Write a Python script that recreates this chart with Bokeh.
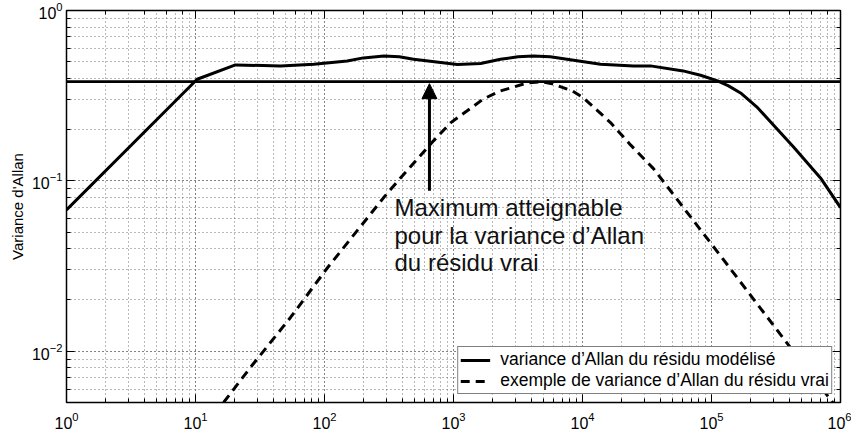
from bokeh.plotting import figure
from bokeh.models import LogAxis, LogTicker, Legend, LegendItem, Arrow, NormalHead, Range1d
from bokeh.embed import file_html
from bokeh.resources import INLINE
from bokeh.core.properties import value

FONT = "Liberation Sans"

# modelled residual Allan variance (solid)
tau_model = [1, 10.3, 20.4, 45.6, 82.6, 150, 200, 289, 380, 490, 1072, 1622,
             2312, 3162, 4169, 5623, 7586, 13800, 24830, 33650, 60300, 82200,
             111400, 135500, 168000, 224000, 302000, 432500, 700000, 1e6]
avar_model = [0.0676, 0.395, 0.479, 0.473, 0.483, 0.506, 0.527, 0.541, 0.535,
              0.517, 0.482, 0.488, 0.517, 0.535, 0.541, 0.535, 0.517, 0.483,
              0.473, 0.473, 0.442, 0.417, 0.386, 0.361, 0.328, 0.272, 0.213,
              0.158, 0.104, 0.0697]

# example of true residual Allan variance (dashed)
tau_true = [16.5, 26.7, 54.5, 105.5, 286.6, 388, 700, 948, 1710, 2312, 3750,
            4720, 5850, 8360, 10180, 16480, 23560, 35480, 117500, 409300,
            871000, 1e6]
avar_true = [0.005, 0.00804, 0.01578, 0.0309, 0.0795, 0.104, 0.1717, 0.219,
             0.303, 0.337, 0.376, 0.382, 0.371, 0.337, 0.307, 0.22, 0.1626,
             0.118, 0.0363, 0.0105, 0.005, 0.0044]

# attainable maximum
tau_limit = [1, 1e6]
avar_limit = [0.382, 0.382]

# annotation
arrow_tau = 651
arrow_avar = [0.0874, 0.372]
note_tau = [349, 349, 349]
note_avar = [0.0695, 0.0476, 0.0332]
note_lines = ["Maximum atteignable", "pour la variance d\u2019Allan", "du r\u00e9sidu vrai"]

legend_labels = ["variance d\u2019Allan du r\u00e9sidu mod\u00e9lis\u00e9",
                 "exemple de variance d\u2019Allan du r\u00e9sidu vrai"]
y_label = "Variance d'Allan"

p = figure(width=851, height=439, x_axis_type="log", y_axis_type="log",
           x_range=Range1d(1, 1e6), y_range=Range1d(0.005, 1),
           output_backend="svg", toolbar_location=None,
           min_border_left=66, min_border_right=11, min_border_top=10,
           min_border_bottom=37)
p.background_fill_color = "white"
p.border_fill_color = "white"
p.outline_line_color = "black"
p.outline_line_width = 1.5

for g in (p.xgrid, p.ygrid):
    g.grid_line_color = "#707070"
    g.grid_line_dash = "1 3"
    g.grid_line_width = 1
    g.minor_grid_line_color = "#707070"
    g.minor_grid_line_dash = "1 3"
    g.minor_grid_line_width = 1

for ax in list(p.xaxis) + list(p.yaxis):
    ax.major_tick_in = 8
    ax.major_tick_out = 0
    ax.minor_tick_in = 4
    ax.minor_tick_out = 0
    ax.axis_line_color = "black"
    ax.major_tick_line_color = "black"
    ax.minor_tick_line_color = "black"
    ax.major_label_text_font = FONT
    ax.major_label_text_font_size = "16px"
    ax.major_label_text_color = "black"

p.xaxis.major_label_standoff = 9
p.yaxis.major_label_standoff = 4
p.yaxis.axis_label = y_label
p.yaxis.axis_label_text_font = FONT
p.yaxis.axis_label_text_font_size = "15px"
p.yaxis.axis_label_text_font_style = "normal"
p.yaxis.axis_label_text_color = "black"
p.yaxis.axis_label_standoff = 3

for place in ("above", "right"):
    ax = LogAxis(ticker=LogTicker())
    ax.major_label_text_font_size = "1px"
    ax.major_label_text_color = None
    ax.major_label_standoff = 0
    ax.major_tick_in = 8
    ax.major_tick_out = 0
    ax.minor_tick_in = 4
    ax.minor_tick_out = 0
    ax.axis_line_color = "black"
    p.add_layout(ax, place)

p.line(tau_limit, avar_limit, line_color="black", line_width=2.7)
r_model = p.line(tau_model, avar_model, line_color="black", line_width=3)
r_true = p.line(tau_true, avar_true, line_color="black", line_width=3,
                line_dash="9 6")

p.add_layout(Arrow(end=NormalHead(size=15, fill_color="black", line_color="black"),
                   x_start=arrow_tau, y_start=arrow_avar[0],
                   x_end=arrow_tau, y_end=arrow_avar[1],
                   line_color="black", line_width=3))

p.text(x=note_tau, y=note_avar, text=note_lines, text_font=value(FONT),
       text_font_size="24px", text_color="#111111", text_align="left",
       text_baseline="alphabetic")

legend = Legend(items=[LegendItem(label=legend_labels[0], renderers=[r_model]),
                       LegendItem(label=legend_labels[1], renderers=[r_true])],
                location="bottom_right")
legend.label_text_font = FONT
legend.label_text_font_size = "17.5px"
legend.label_text_line_height = 1.0
legend.label_text_color = "black"
legend.border_line_color = "black"
legend.border_line_width = 1
legend.background_fill_color = "white"
legend.background_fill_alpha = 1
legend.glyph_width = 30
legend.glyph_height = 18
legend.label_height = 18
legend.label_standoff = 10
legend.padding = 2
legend.spacing = 0
legend.margin = 8
p.add_layout(legend)

open("out.html", "w").write(file_html(p, INLINE))
